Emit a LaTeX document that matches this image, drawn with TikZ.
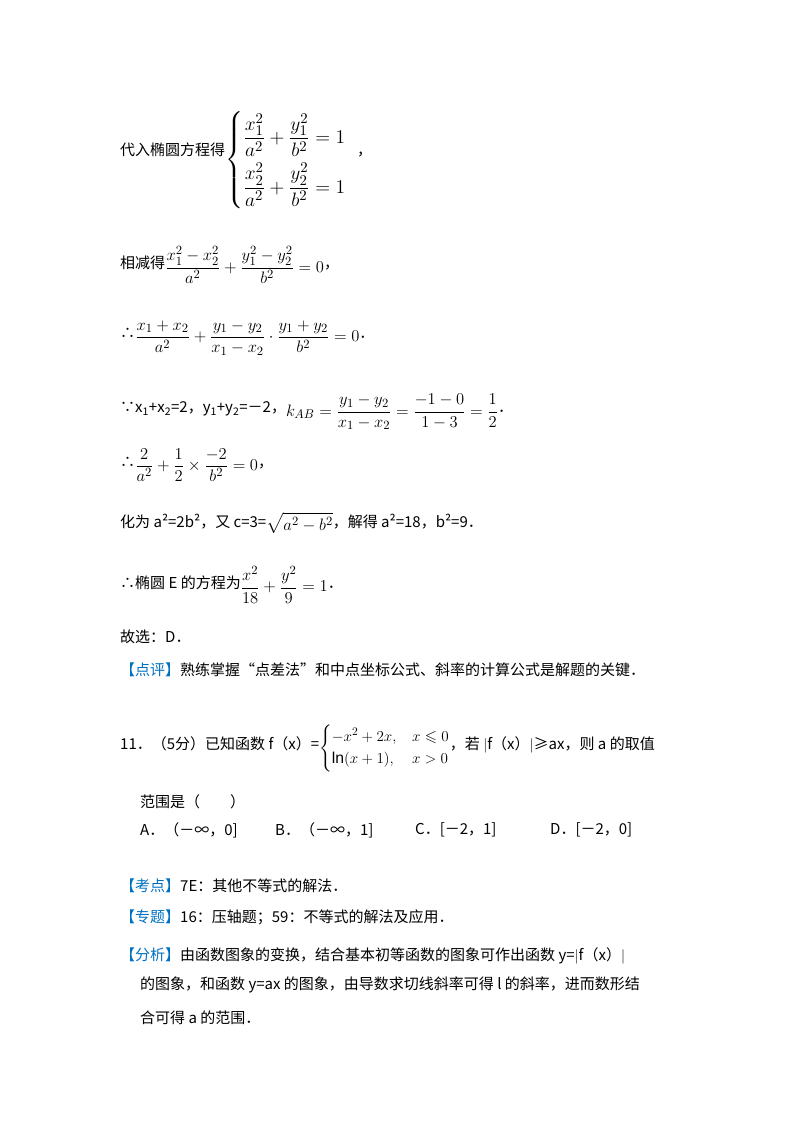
\documentclass[tikz,border=0pt]{standalone}
\usepackage{amsmath,amssymb,graphicx}
\usepackage{fontspec}
\setmainfont{Liberation Sans}
\newfontfamily\cjk{Noto Sans CJK SC}
\definecolor{hd}{RGB}{0,112,192}
\newcommand\mm[1]{\raisebox{-0.4ex}{\scalebox{1.15}{$\displaystyle #1$}}}
\begin{document}
\begin{tikzpicture}[x=1pt,y=-1pt,
  t/.style={anchor=west,inner sep=0pt,font=\cjk\fontsize{15}{18}\selectfont}]
\useasboundingbox (0,0) rectangle (800,1132);
\node[t] (l1) at (120,160) {代入椭圆方程得\raisebox{-1.2ex}{\scalebox{1.35}{$\begin{cases}\dfrac{x_1^2}{a^2}+\dfrac{y_1^2}{b^2}=1\\[8pt] \dfrac{x_2^2}{a^2}+\dfrac{y_2^2}{b^2}=1\end{cases}$}}\hspace{-10pt}，};
\node[t] (l2) at (120,265) {相减得\mm{\frac{x_1^2-x_2^2}{a^2}+\frac{y_1^2-y_2^2}{b^2}=0}，};
\node[t] (l3) at (120,338) {∴\mm{\frac{x_1+x_2}{a^2}+\frac{y_1-y_2}{x_1-x_2}\cdot\frac{y_1+y_2}{b^2}=0}．};
\node[t] (l4) at (120,412) {∵x\textsubscript{1}+x\textsubscript{2}=2，y\textsubscript{1}+y\textsubscript{2}=－2，\mm{k_{AB}=\frac{y_1-y_2}{x_1-x_2}=\frac{-1-0}{1-3}=\frac{1}{2}}．};
\node[t] (l5) at (120,465) {∴\mm{\frac{2}{a^2}+\frac{1}{2}\times\frac{-2}{b^2}=0}，};
\node[t] (l6) at (120,523) {化为 a²=2b²，又 c=3=\mm{\sqrt{a^2-b^2}}，解得 a²=18，b²=9．};
\node[t] (l7) at (120,585) {∴椭圆 E 的方程为\mm{\frac{x^2}{18}+\frac{y^2}{9}=1}．};
\node[t] (l8) at (120,637) {故选：D．};
\node[t] (l9) at (120,670) {{\color{hd}【点评】}熟练掌握“点差法”和中点坐标公式、斜率的计算公式是解题的关键．};
\node[t] (l10) at (120,748) {11．（5分）已知函数 f（x）=\raisebox{-0.3ex}{\scalebox{1.05}{$\begin{cases}-x^2+2x, & x\leqslant 0\\ \ln(x+1), & x>0\end{cases}$}}，若 $|$f（x）$|$≥ax，则 a 的取值};
\node[t] (l11) at (140,802) {范围是（　　）};
\node[t] (a) at (140,830) {A．（－∞，0]};
\node[t] (b) at (275,830) {B．（－∞，1]};
\node[t] (c) at (415,830) {C．[－2，1]};
\node[t] (d) at (550,830) {D．[－2，0]};
\node[t] (k1) at (120,886) {{\color{hd}【考点】}7E：其他不等式的解法．};
\node[t] (k2) at (120,917) {{\color{hd}【专题】}16：压轴题；59：不等式的解法及应用．};
\node[t] (k3) at (120,956) {{\color{hd}【分析】}由函数图象的变换，结合基本初等函数的图象可作出函数 y=$|$f（x）$|$};
\node[t] (k4) at (140,985) {的图象，和函数 y=ax 的图象，由导数求切线斜率可得 l 的斜率，进而数形结};
\node[t] (k5) at (140,1018) {合可得 a 的范围．};
\end{tikzpicture}
\end{document}
